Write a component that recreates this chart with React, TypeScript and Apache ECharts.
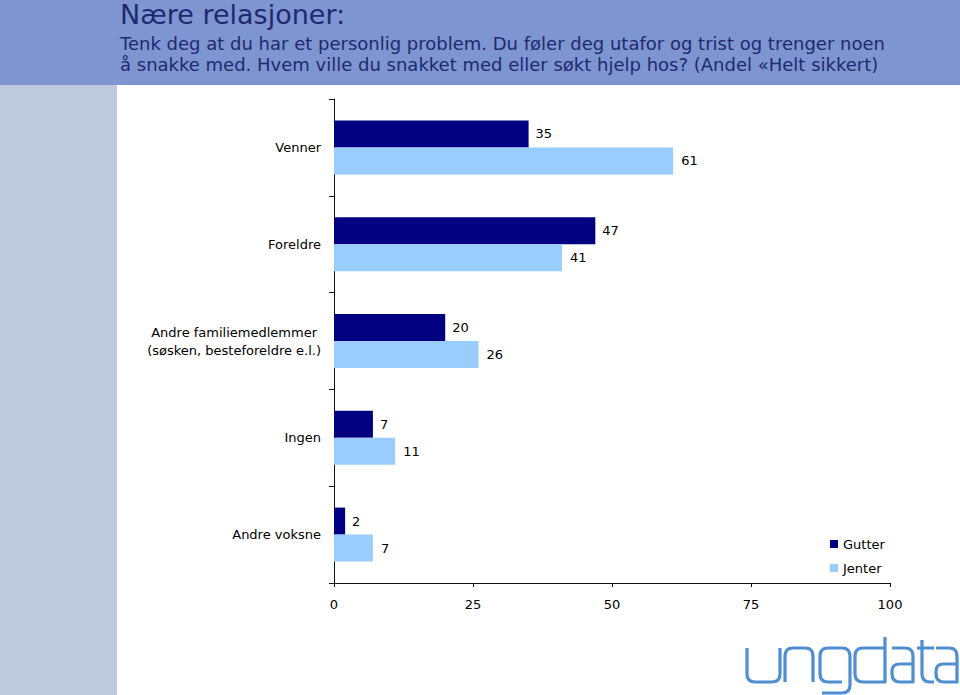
import React, { useEffect, useRef } from "react";
import * as echarts from "echarts";

const categories = [
  "Venner",
  "Foreldre",
  "Andre familiemedlemmer\n(søsken, besteforeldre e.l.)",
  "Ingen",
  "Andre voksne",
];
const gutter = [35, 47, 20, 7, 2];
const jenter = [61, 41, 26, 11, 7];
const seriesNames = ["Gutter", "Jenter"];
const titleText = "Nære relasjoner:";
const subtitleLines = [
  "Tenk deg at du har et personlig problem. Du føler deg utafor og trist og trenger noen",
  "å snakke med. Hvem ville du snakket med eller søkt hjelp hos? (Andel «Helt sikkert)",
];

const logoD =
  "M747 648 V674 Q747 682 755 682 H772 Q780 682 780 674 V648 " +
  "M785 682 V656 Q785 648 793 648 H805 Q813 648 813 656 V682 " +
  "M842 682 H828 Q820 682 820 674 V656 Q820 648 828 648 H842 Q850 648 850 656 V685 Q850 693 842 693 H822 " +
  "M885 637 V682 H863 Q855 682 855 674 V656 Q855 648 863 648 H885 " +
  "M892 648 H905 Q913 648 913 656 V682 H900 Q892 682 892 674 V671 Q892 664 900 664 H913 " +
  "M922 640 V674 Q922 682 930 682 H934 M917 648 H934 " +
  "M936 648 H949 Q957 648 957 656 V682 H944 Q936 682 936 674 V671 Q936 664 944 664 H957";

echarts.graphic.registerShape("logo", echarts.graphic.extendPath(logoD, {}));

const FONT = "DejaVu Sans";

export default function App() {
  const ref = useRef<HTMLDivElement>(null);
  useEffect(() => {
    if (!ref.current) return;
    const chart = echarts.init(ref.current, undefined, { renderer: "svg" });
    chart.setOption({
      animation: false,
      backgroundColor: "#ffffff",
      graphic: [
        { type: "rect", x: 0, y: 0, shape: { width: 960, height: 85 }, style: { fill: "#7f95d1" }, z: -10 },
        { type: "rect", x: 0, y: 85, shape: { width: 117, height: 610 }, style: { fill: "#bfcadf" }, z: -10 },
        {
          type: "text", x: 120, y: 14,
          style: { text: titleText, fontFamily: FONT, fontSize: 27, lineHeight: 27, fill: "#1e2a6e", textVerticalAlign: "middle" },
        },
        {
          type: "text", x: 120, y: 43.5,
          style: { text: subtitleLines[0], fontFamily: FONT, fontSize: 18, fill: "#1e2a6e", textVerticalAlign: "middle" },
        },
        {
          type: "text", x: 120, y: 64.5,
          style: { text: subtitleLines[1], fontFamily: FONT, fontSize: 18, fill: "#1e2a6e", textVerticalAlign: "middle" },
        },
        {
          type: "logo", x: 0, y: 0,
          style: { fill: "none", stroke: "#4f8fd1", lineWidth: 3.2, lineCap: "butt", lineJoin: "round" },
        },
      ],
      legend: {
        orient: "vertical",
        left: 825,
        top: 532,
        icon: "rect",
        itemWidth: 8,
        itemHeight: 8,
        itemGap: 10,
        textStyle: { fontFamily: FONT, fontSize: 13, color: "#000", lineHeight: 14 },
        data: seriesNames,
      },
      grid: { left: 334, right: 70, top: 99, bottom: 112, containLabel: false },
      xAxis: {
        type: "value",
        min: 0,
        max: 100,
        interval: 25,
        axisLine: { show: true, lineStyle: { color: "#111", width: 1 } },
        axisTick: { show: true, length: 4, lineStyle: { color: "#111" } },
        splitLine: { show: false },
        axisLabel: { fontFamily: FONT, fontSize: 13, color: "#000", margin: 15 },
      },
      yAxis: {
        type: "category",
        inverse: true,
        data: categories,
        axisLine: { show: true, lineStyle: { color: "#111", width: 1 } },
        axisTick: { show: true, length: 5, lineStyle: { color: "#111" } },
        axisLabel: {
          fontFamily: FONT,
          fontSize: 13,
          color: "#000",
          margin: 13,
          lineHeight: 18,
          formatter: (v: string) =>
            v.includes("\n") ? v.split("\n").map((l) => `{c|${l}}`).join("\n") : v,
          rich: {
            c: { align: "center", fontFamily: FONT, fontSize: 13, color: "#000", lineHeight: 18 },
          },
        },
      },
      series: [
        {
          name: seriesNames[0],
          type: "bar",
          data: gutter,
          barWidth: 27,
          barGap: "0%",
          itemStyle: { color: "#000080" },
          label: { show: true, position: "right", distance: 7, fontFamily: FONT, fontSize: 13, color: "#000" },
        },
        {
          name: seriesNames[1],
          type: "bar",
          data: jenter,
          barWidth: 27,
          barGap: "0%",
          itemStyle: { color: "#99ccff" },
          label: { show: true, position: "right", distance: 8, fontFamily: FONT, fontSize: 13, color: "#000" },
        },
      ],
    });
    return () => chart.dispose();
  }, []);
  return (
    <div
      ref={ref}
      style={{ position: "absolute", left: 0, top: 0, width: 960, height: 695 }}
    />
  );
}
